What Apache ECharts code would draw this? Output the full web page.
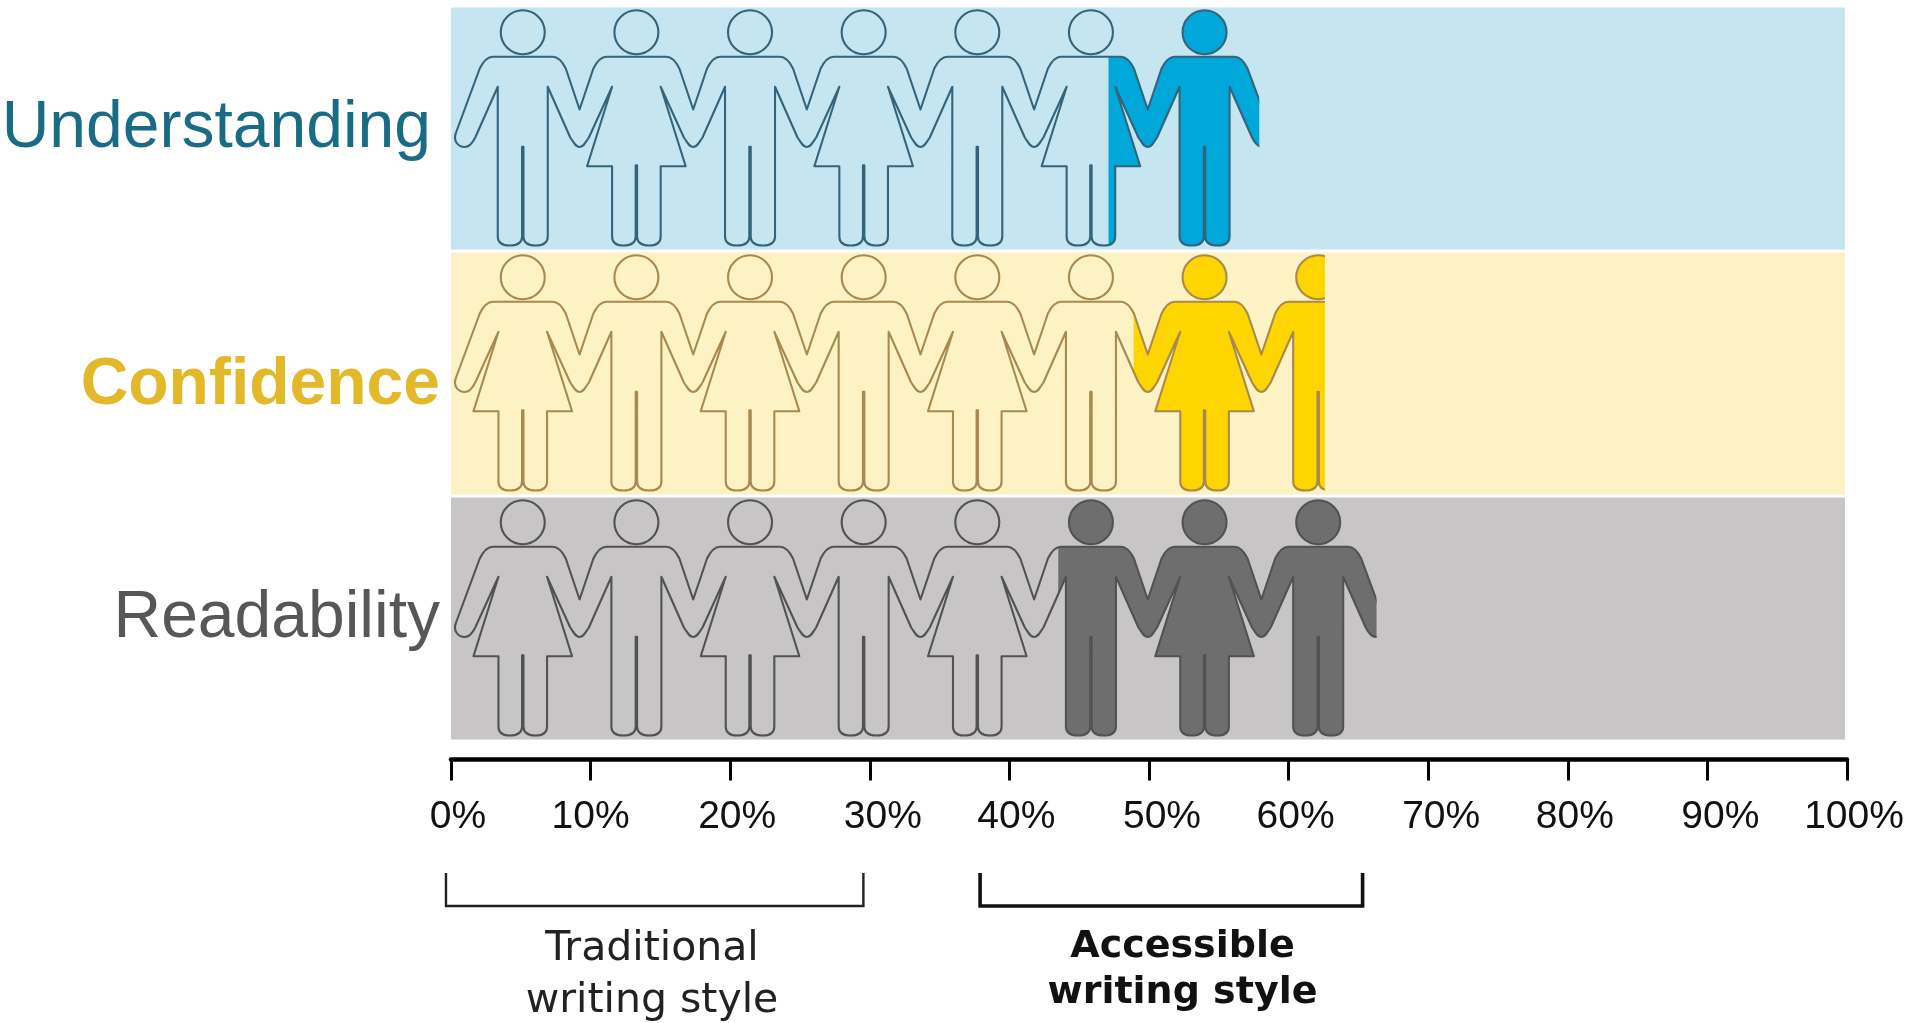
<!DOCTYPE html>
<html>
<head>
<meta charset="utf-8">
<title>Writing style</title>
<script src="https://cdn.jsdelivr.net/npm/echarts@6/dist/echarts.min.js"></script>
<style>
  html, body { margin: 0; padding: 0; background: #fff; }
  #chart { width: 1907px; height: 1023px; }
</style>
</head>
<body>
<div id="chart"></div>
<script>
const categories = ['Understanding', 'Confidence', 'Readability'];
const traditionalValues = [47.1, 48.9, 43.5];
const accessibleValues = [57.9, 62.6, 66.3];
const fullScale = [99.85, 99.85, 99.85];
const rowFigures = [
  ['m', 'f', 'm', 'f', 'm', 'f', 'm'],
  ['f', 'm', 'f', 'm', 'f', 'm', 'f', 'm'],
  ['f', 'm', 'f', 'm', 'f', 'm', 'f', 'm']
];
const tickValues = [0, 100];
const bracketStarts = [-0.36, 37.9];
const bracketEnds = [29.54, 65.3];
const bracketCenters = [14.4, 52.4];
const bracketLabels = ['Traditional\nwriting style', 'Accessible\nwriting style'];

const bandColors = ['#c5e6f1', '#fdf2c3', '#c7c5c6'];
const fillColors = ['#00a7d9', '#ffd500', '#6e6e6e'];
const outlineColors = ['#33647c', '#a8894f', '#525252'];

// figure centre of the first person and distance between people, in axis units
const firstFigure = 5.14;
const figurePitch = 8.14;

// outline of the whole chain of people holding hands, so there are no seams at the hands
function chainPath(genders, centers, top, headFrom) {
  const y = v => (top + v).toFixed(1);
  const halfPitch = (centers[1] - centers[0]) / 2;
  const first = centers[0];
  const last = centers[centers.length - 1];
  let d = `M${first - 66.7} ${y(125)}`;
  // upper edge, left to right
  centers.forEach((c, i) => {
    d += `L${c - 43} ${y(61)}Q${c - 37} ${y(49.3)} ${c - 30} ${y(49.3)}`;
    d += `L${c + 30} ${y(49.3)}Q${c + 37} ${y(49.3)} ${c + 43} ${y(61)}`;
    if (i < centers.length - 1) d += `L${c + halfPitch} ${y(102)}`;
  });
  d += `L${last + 66.7} ${y(125)}C${last + 70} ${y(133)} ${last + 65} ${y(139.5)} ${last + 58} ${y(139.5)}`;
  d += `C${last + 53} ${y(139.5)} ${last + 49.5} ${y(134)} ${last + 47.5} ${y(130)}`;
  // lower edge, right to left
  for (let i = centers.length - 1; i >= 0; i--) {
    const c = centers[i];
    const w = genders[i] === 'f' ? 24.3 : 25;
    const slotTop = genders[i] === 'f' ? 157.7 : 139.3;
    d += `L${c + w} ${y(79.3)}`;
    if (genders[i] === 'f') d += `L${c + 49.3} ${y(158.7)}L${c + w} ${y(158.7)}`;
    d += `L${c + w} ${y(229)}Q${c + w} ${y(238)} ${c + 13} ${y(238)}Q${c + 0.7} ${y(238)} ${c + 0.7} ${y(229)}`;
    d += `L${c + 0.7} ${y(slotTop)}L${c - 0.7} ${y(slotTop)}L${c - 0.7} ${y(229)}`;
    d += `Q${c - 0.7} ${y(238)} ${c - 13} ${y(238)}Q${c - w} ${y(238)} ${c - w} ${y(229)}`;
    if (genders[i] === 'f') d += `L${c - w} ${y(158.7)}L${c - 49.3} ${y(158.7)}`;
    d += `L${c - w} ${y(79.3)}`;
    if (i > 0) {
      const m = c - halfPitch;
      d += `L${c - 47.5} ${y(130)}C${m + 5} ${y(136)} ${m + 4} ${y(139.5)} ${m} ${y(139.5)}`;
      d += `C${m - 4} ${y(139.5)} ${m - 5} ${y(136)} ${centers[i - 1] + 47.5} ${y(130)}`;
    }
  }
  d += `L${first - 47.5} ${y(130)}C${first - 49.5} ${y(134)} ${first - 53} ${y(139.5)} ${first - 58} ${y(139.5)}`;
  d += `C${first - 65} ${y(139.5)} ${first - 70} ${y(133)} ${first - 66.7} ${y(125)}Z`;
  // heads
  centers.filter(c => c >= headFrom).forEach(c => {
    d += `M${c - 22} ${y(24.7)}A22 22 0 1 1 ${c + 22} ${y(24.7)}A22 22 0 1 1 ${c - 22} ${y(24.7)}Z`;
  });
  return d;
}

function renderPeople(params, api) {
  const row = api.value(0);
  const rowCenter = api.coord([0, row])[1];
  const top = rowCenter - 121;
  const left = api.coord([0, row])[0];
  const splitX = api.coord([api.value(1), row])[0];
  const endX = api.coord([api.value(2), row])[0];
  const genders = rowFigures[row];
  const centers = genders.map((g, i) => api.coord([firstFigure + i * figurePitch, row])[0]);
  return {
    type: 'group',
    children: [
      {
        // only heads past the split get coloured, the reference never colours half a head on the left
        type: 'path',
        shape: { pathData: chainPath(genders, centers, top, splitX) },
        style: { fill: fillColors[row], stroke: null },
        clipPath: { type: 'rect', shape: { x: splitX, y: top, width: endX - splitX, height: 242 } }
      },
      {
        type: 'path',
        shape: { pathData: chainPath(genders, centers, top, left) },
        style: { fill: null, stroke: outlineColors[row], lineWidth: 2.1, lineJoin: 'round' },
        clipPath: { type: 'rect', shape: { x: left, y: top, width: endX - left, height: 242 } }
      }
    ]
  };
}

function renderBracket(params, api) {
  const i = params.dataIndex;
  const x0 = api.coord([bracketStarts[i], 0])[0];
  const x1 = api.coord([bracketEnds[i], 0])[0];
  const textX = api.coord([bracketCenters[i], 0])[0];
  const bold = i === 1;
  return {
    type: 'group',
    children: [
      {
        type: 'polyline',
        shape: { points: [[x0, 873], [x0, 906], [x1, 906], [x1, 873]] },
        style: { fill: null, stroke: bold ? '#111' : '#222', lineWidth: bold ? 3.6 : 2.4 }
      },
      {
        type: 'text',
        style: {
          text: bracketLabels[i],
          x: textX,
          y: bold ? 923.5 : 924,
          align: 'center',
          verticalAlign: 'top',
          fill: bold ? '#111' : '#222',
          font: (bold ? 'bold 38px' : '41px') + ' "DejaVu Sans"',
          lineHeight: bold ? 46.5 : 51.5
        }
      }
    ]
  };
}

// the reference's tick labels do not sit evenly under their ticks
function tickLabel(v) {
  const style = v === 10 ? 'low' : (v % 20 === 10 ? 'high' : 'even');
  return `{${style}|${v}%}`;
}
const tickLabelFont = { color: '#111', fontFamily: 'Liberation Sans', fontSize: 39 };

const chart = echarts.init(document.getElementById('chart'));

chart.setOption({
  backgroundColor: '#fff',
  animation: false,
  grid: { left: 451, top: 6, width: 1396, height: 735, outerBoundsMode: 'none' },
  xAxis: {
    type: 'value',
    min: tickValues[0],
    max: tickValues[1],
    interval: 10,
    offset: 18.5,
    axisLine: { show: true, onZero: false, lineStyle: { color: '#000', width: 4.5 } },
    axisTick: { show: true, length: 21, lineStyle: { color: '#000', width: 3 } },
    splitLine: { show: false },
    axisLabel: {
      margin: 38,
      hideOverlap: false,
      formatter: tickLabel,
      rich: {
        even: { ...tickLabelFont, padding: [0, 0, 0, 14] },
        low: { ...tickLabelFont, padding: [0, 0, 0, 0] },
        high: { ...tickLabelFont, padding: [0, 0, 0, 26] }
      }
    }
  },
  yAxis: {
    type: 'category',
    data: categories,
    inverse: true,
    axisLine: { show: false },
    axisTick: { show: false },
    axisLabel: {
      margin: 11,
      formatter: v => `{${v}|${v}}`,
      rich: {
        Understanding: { color: '#1a6b85', fontFamily: 'Liberation Sans', fontSize: 66, padding: [0, 9, 0, 0] },
        Confidence: { color: '#e3b92a', fontFamily: 'Liberation Sans', fontWeight: 'bold', fontSize: 66, padding: [25, 0, 0, 0] },
        Readability: { color: '#575757', fontFamily: 'Liberation Sans', fontSize: 66, padding: [0, 0, 0, 0] }
      }
    }
  },
  series: [
    {
      name: 'band',
      type: 'bar',
      barWidth: 242,
      silent: true,
      z: 1,
      data: fullScale.map((v, i) => ({ value: v, itemStyle: { color: bandColors[i] } }))
    },
    {
      name: 'people',
      type: 'custom',
      silent: true,
      z: 5,
      renderItem: renderPeople,
      encode: { x: [1, 2], y: 0 },
      data: categories.map((c, i) => [i, traditionalValues[i], accessibleValues[i]])
    },
    {
      name: 'brackets',
      type: 'custom',
      silent: true,
      clip: false,
      renderItem: renderBracket,
      encode: { x: [0, 1] },
      data: bracketStarts.map((s, i) => [s, bracketEnds[i]])
    }
  ]
});

window.addEventListener('resize', () => chart.resize());
</script>
</body>
</html>
